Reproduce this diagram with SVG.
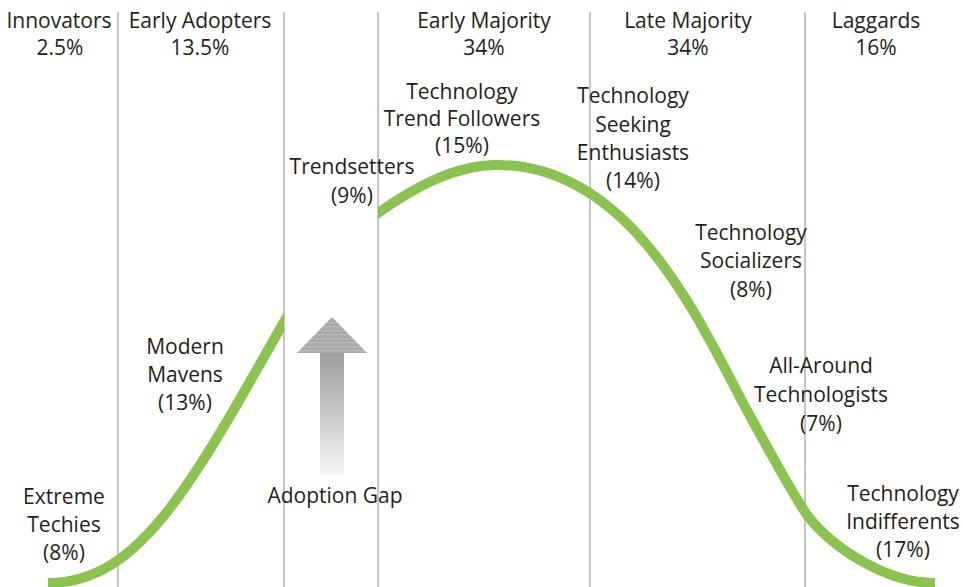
<svg xmlns="http://www.w3.org/2000/svg" width="963" height="587" viewBox="0 0 963 587">
  <style>
    .t { font-family: "Open Sans", "Noto Sans", "Liberation Sans", sans-serif; font-size: 21px; fill: #231f20; text-anchor: middle; }
    .div { stroke: #b3b3b3; stroke-width: 1.5; fill: none; }
    .curve { stroke: #8cc350; stroke-width: 10; fill: none; stroke-linecap: butt; }
  </style>
  <defs>
    <linearGradient id="shaftGrad" x1="0" y1="0" x2="0" y2="1">
      <stop offset="0" stop-color="#9d9d9d"/>
      <stop offset="1" stop-color="#f6f6f6"/>
    </linearGradient>
    <pattern id="stripes" patternUnits="userSpaceOnUse" width="8" height="4">
      <rect width="8" height="4" fill="#a8a8a8"/>
      <rect y="2" width="8" height="1.3" fill="#bcbcbc"/>
    </pattern>
    <clipPath id="clipLeft"><rect x="0" y="0" width="284" height="587"/></clipPath>
    <clipPath id="clipRight"><rect x="378" y="0" width="585" height="587"/></clipPath>
  </defs>

  <rect width="963" height="587" fill="#ffffff"/>

  <g id="dividers">
    <line class="div" x1="118" y1="12" x2="118" y2="587"/>
    <line class="div" x1="284" y1="12" x2="284" y2="587"/>
    <line class="div" x1="378" y1="12" x2="378" y2="587"/>
    <line class="div" x1="590" y1="12" x2="590" y2="587"/>
    <line class="div" x1="805" y1="12" x2="805" y2="587"/>
  </g>

  <g id="connectors">
    <path class="curve" clip-path="url(#clipLeft)" d="M48,583 C93,583 130,560 170,508 C208,458.6 246,388 284,322 L294,304.6"/>
    <path class="curve" clip-path="url(#clipRight)" d="M366,221.4 L378,213 C415,187 455,165 497,165 C637,165 705,335 750,416 C768,448.4 788,486 805,512 C823,539.5 880,583 935,583"/>
  </g>

  <g id="adoption-gap-arrow">
    <rect x="320" y="353" width="24" height="122" fill="url(#shaftGrad)"/>
    <polygon points="297,353 332,317 367,353" fill="url(#stripes)"/>
  </g>

  <g id="innovators">
    <text class="t" x="59" y="28">Innovators</text>
    <text class="t" x="60" y="55">2.5%</text>
  </g>
  <g id="early-adopters">
    <text class="t" x="200" y="28">Early Adopters</text>
    <text class="t" x="200" y="55">13.5%</text>
  </g>
  <g id="early-majority">
    <text class="t" x="484" y="28">Early Majority</text>
    <text class="t" x="484" y="55">34%</text>
  </g>
  <g id="late-majority">
    <text class="t" x="688" y="28">Late Majority</text>
    <text class="t" x="688" y="55">34%</text>
  </g>
  <g id="laggards">
    <text class="t" x="876" y="28">Laggards</text>
    <text class="t" x="876" y="55">16%</text>
  </g>

  <g id="extreme-techies">
    <text class="t" x="64" y="504">Extreme</text>
    <text class="t" x="64" y="532">Techies</text>
    <text class="t" x="64" y="560">(8%)</text>
  </g>
  <g id="modern-mavens">
    <text class="t" x="185" y="353.5">Modern</text>
    <text class="t" x="185" y="382">Mavens</text>
    <text class="t" x="185" y="410">(13%)</text>
  </g>
  <g id="adoption-gap">
    <text class="t" x="335" y="503">Adoption Gap</text>
  </g>
  <g id="trendsetters">
    <text class="t" x="352" y="174">Trendsetters</text>
    <text class="t" x="352" y="203">(9%)</text>
  </g>
  <g id="technology-trend-followers">
    <text class="t" x="462" y="99">Technology</text>
    <text class="t" x="462" y="126">Trend Followers</text>
    <text class="t" x="462" y="153">(15%)</text>
  </g>
  <g id="technology-seeking-enthusiasts">
    <text class="t" x="633" y="103">Technology</text>
    <text class="t" x="633" y="131.5">Seeking</text>
    <text class="t" x="633" y="160">Enthusiasts</text>
    <text class="t" x="633" y="188">(14%)</text>
  </g>
  <g id="technology-socializers">
    <text class="t" x="751" y="239.5">Technology</text>
    <text class="t" x="751" y="268">Socializers</text>
    <text class="t" x="751" y="297">(8%)</text>
  </g>
  <g id="all-around-technologists">
    <text class="t" x="821" y="373">All-Around</text>
    <text class="t" x="821" y="402">Technologists</text>
    <text class="t" x="821" y="430.5">(7%)</text>
  </g>
  <g id="technology-indifferents">
    <text class="t" x="903" y="501">Technology</text>
    <text class="t" x="903" y="528.5">Indifferents</text>
    <text class="t" x="903" y="556.5">(17%)</text>
  </g>
</svg>
